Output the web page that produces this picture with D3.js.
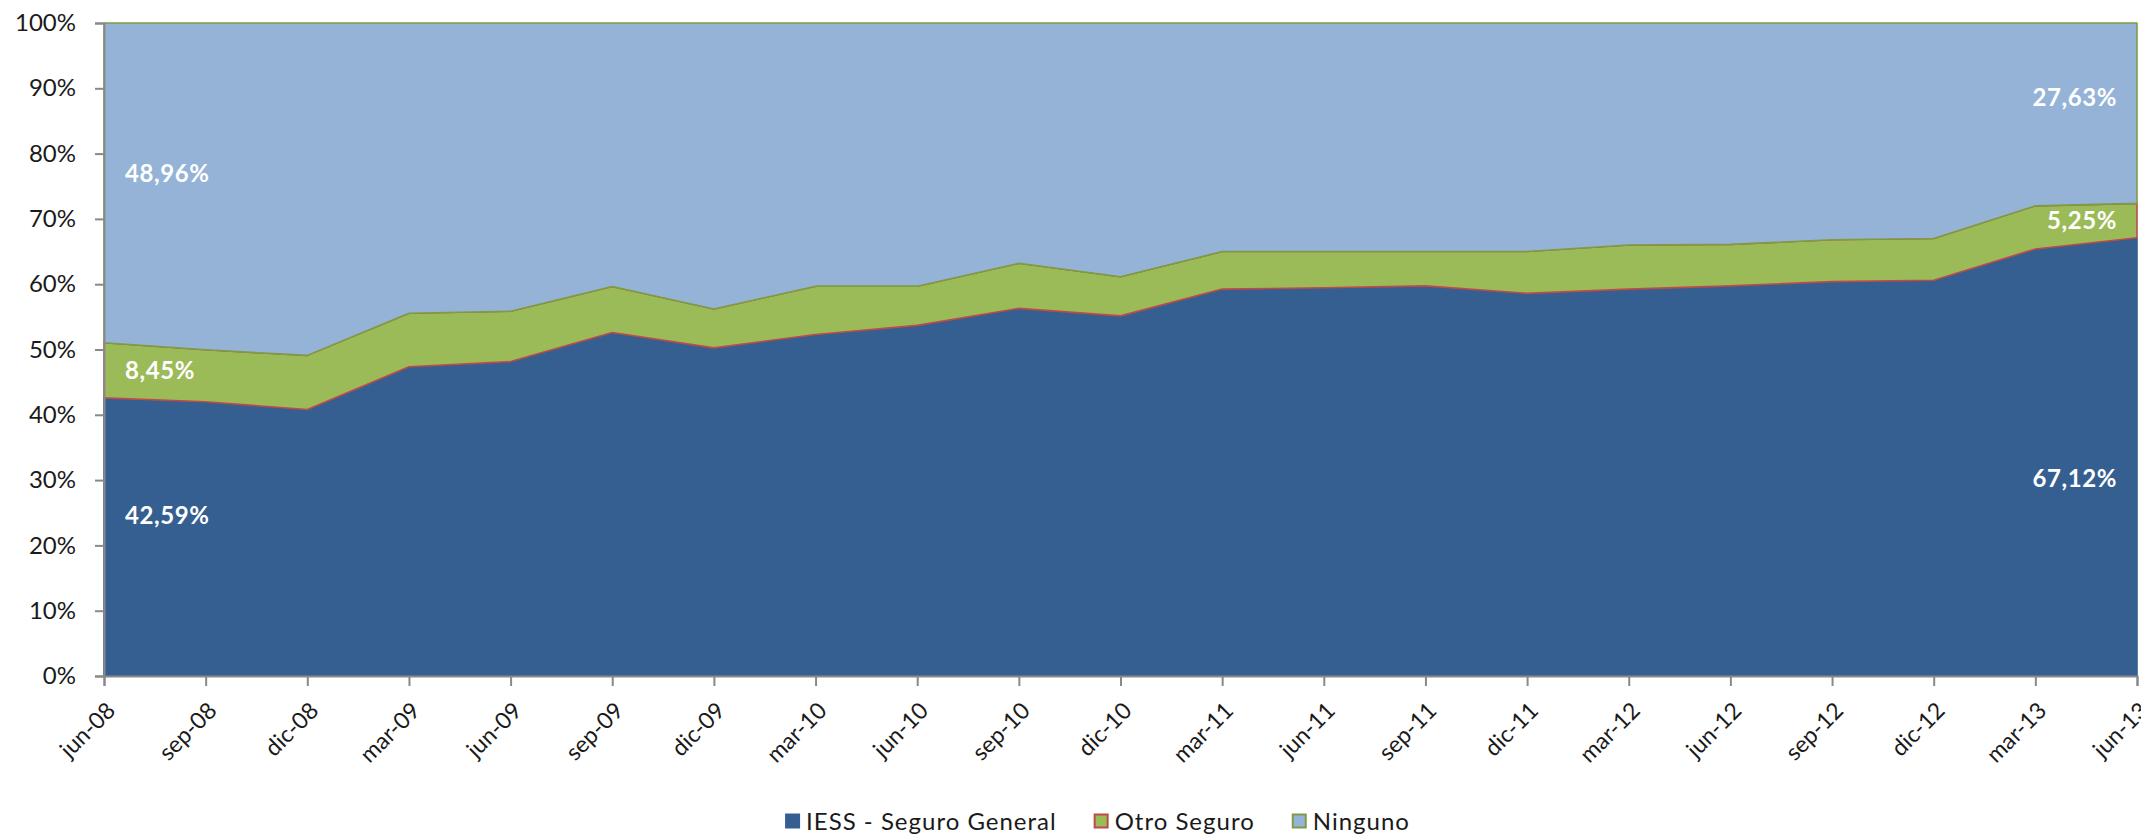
<!DOCTYPE html>
<html>
<head>
<meta charset="utf-8">
<script src="https://cdn.jsdelivr.net/npm/d3@7"></script>
<style>
  body { margin: 0; background: #fff; }
  svg text { font-family: Lato, "Open Sans", sans-serif; }
</style>
</head>
<body>
<div id="chart"></div>
<script>
// categories and series (percent of each quarter)
let periods = ["jun-08", "sep-08", "dic-08", "mar-09", "jun-09", "sep-09", "dic-09",
    "mar-10", "jun-10", "sep-10", "dic-10", "mar-11", "jun-11", "sep-11", "dic-11",
    "mar-12", "jun-12", "sep-12", "dic-12", "mar-13", "jun-13"];
let iess = [42.59, 42.0, 40.8, 47.35, 48.15, 52.6, 50.25, 52.3, 53.7, 56.3, 55.15,
    59.25, 59.45, 59.75, 58.6, 59.25, 59.75, 60.4, 60.6, 65.4, 67.12];
let otro = [8.45, 7.95, 8.3, 8.2, 7.7, 7.05, 5.95, 7.4, 6.0, 6.9, 6.0,
    5.75, 5.55, 5.25, 6.4, 6.75, 6.35, 6.4, 6.4, 6.6, 5.25];
let ninguno = [48.96, 50.05, 50.9, 44.45, 44.15, 40.35, 43.8, 40.3, 40.3, 36.8, 38.85,
    35.0, 35.0, 35.0, 35.0, 34.0, 33.9, 33.2, 33.0, 28.0, 27.63];
let seriesNames = ["IESS - Seguro General", "Otro Seguro", "Ninguno"];
let yTicks = [0, 0.1, 0.2, 0.3, 0.4, 0.5, 0.6, 0.7, 0.8, 0.9, 1];
// data labels: [series index, point index]
let labelled = [[0, 0], [1, 0], [2, 0], [0, 20], [1, 20], [2, 20]];
// where inside its band each label sits (0 = bottom of band, 1 = top)
let labelPos = [0.575, 0.5, 0.53, 0.45, 0.5, 0.585];

let fills = ["#365f91", "#9bbb59", "#95b3d7"];
let strokes = ["#365f91", "#be4b48", "#7e9c45"];

let W = 2141, H = 835;
let margin = { top: 23, right: 4, bottom: 159, left: 104 };
let width = W - margin.left - margin.right,
    height = H - margin.top - margin.bottom;

let svg = d3.select("#chart").append("svg")
    .attr("width", W).attr("height", H);
let g = svg.append("g")
    .attr("transform", "translate(" + margin.left + "," + margin.top + ")");

let rows = periods.map((p, i) => ({ period: p, s0: iess[i], s1: otro[i], s2: ninguno[i] }));
let stack = d3.stack().keys(["s0", "s1", "s2"]).offset(d3.stackOffsetExpand);
let layers = stack(rows);

let x = d3.scalePoint().domain(periods).range([0, width]);
let y = d3.scaleLinear().domain([0, 1]).range([height, 0]);

let area = d3.area()
    .x(d => x(d.data.period))
    .y0(d => y(d[0]))
    .y1(d => y(d[1]));

g.selectAll("path.layer")
    .data(layers)
    .join("path")
    .attr("class", "layer")
    .attr("d", area)
    .attr("fill", (d, i) => fills[i])
    .attr("stroke", (d, i) => strokes[i])
    .attr("stroke-width", 1.6)
    .attr("stroke-linejoin", "round");

// axes
let yAxis = g.append("g")
    .call(d3.axisLeft(y).tickValues(yTicks).tickFormat(d3.format(".0%")).tickSize(9).tickPadding(19));
let xAxis = g.append("g")
    .attr("transform", "translate(0," + height + ")")
    .call(d3.axisBottom(x).tickSize(10).tickPadding(0));
[yAxis, xAxis].forEach(a => {
    a.select(".domain").attr("stroke", "#898989").attr("stroke-width", 2);
    a.selectAll(".tick line").attr("stroke", "#898989").attr("stroke-width", 2);
});
yAxis.selectAll("text")
    .attr("fill", "#1a1a1a").style("font-size", "24px");
xAxis.selectAll("text")
    .attr("fill", "#1a1a1a").style("font-size", "23px")
    .attr("text-anchor", "end")
    .attr("dy", "0")
    .attr("transform", "translate(5,29) rotate(-45)");

// data labels
let pct = v => d3.format(".2f")(v).replace(".", ",") + "%";
let raw = [iess, otro, ninguno];
g.selectAll("text.dlabel")
    .data(labelled)
    .join("text")
    .attr("class", "dlabel")
    .attr("x", d => d[1] === 0 ? x(periods[0]) + 21 : x(periods[d[1]]) - 20)
    .attr("y", (d, i) => {
        let seg = layers[d[0]][d[1]];
        return y(seg[0] + (seg[1] - seg[0]) * labelPos[i]);
    })
    .attr("dy", "0.35em")
    .attr("text-anchor", d => d[1] === 0 ? "start" : "end")
    .attr("fill", "#ffffff")
    .style("font-size", "24px")
    .style("font-weight", "700")
    .style("letter-spacing", "0.6px")
    .text(d => pct(raw[d[0]][d[1]]));

// legend
let legend = svg.append("g").attr("transform", "translate(0,822)");
let items = legend.selectAll("g").data(seriesNames).join("g");
items.append("rect")
    .attr("width", 13).attr("height", 13).attr("y", -7.5)
    .attr("fill", (d, i) => fills[i])
    .attr("stroke", (d, i) => strokes[i]).attr("stroke-width", 2);
items.append("text")
    .attr("x", 20).attr("dy", "0.35em")
    .attr("fill", "#1a1a1a").style("font-size", "24px")
    .style("letter-spacing", "1px")
    .text(d => d);
let gap = 38, offsets = [], cur = 0;
items.each(function () {
    offsets.push(cur);
    cur += this.getBBox().width + gap;
});
let total = cur - gap, start = 1098 - total / 2;
items.attr("transform", (d, i) => "translate(" + (start + offsets[i]) + ",0)");
</script>
</body>
</html>
